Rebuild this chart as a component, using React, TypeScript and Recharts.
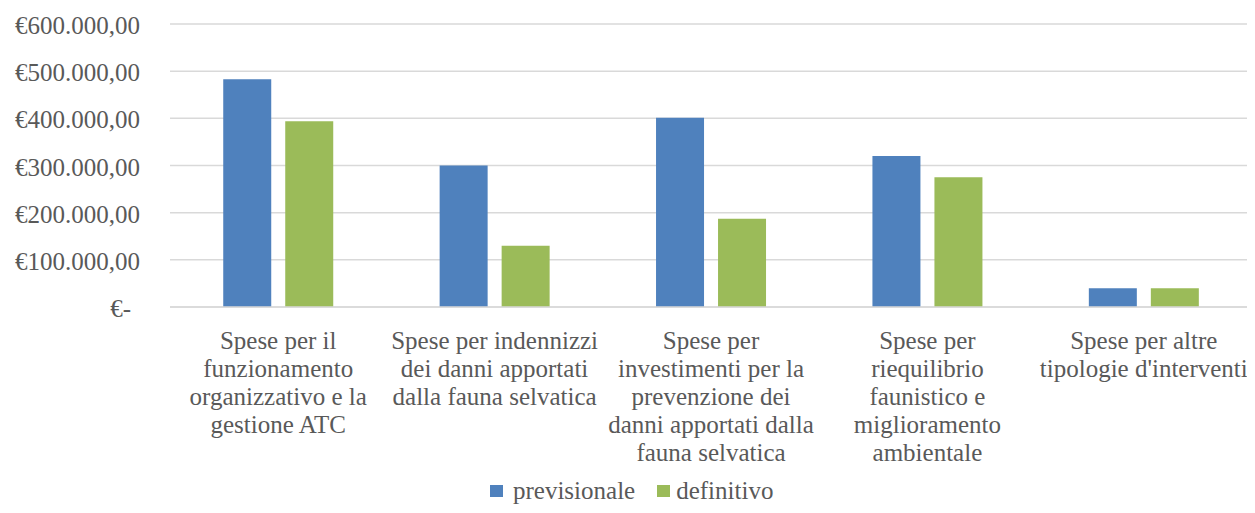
import { BarChart, Bar, XAxis, YAxis, CartesianGrid, Legend } from "recharts";

const categories = [
  "Spese per il\nfunzionamento\norganizzativo e la\ngestione ATC",
  "Spese per indennizzi\ndei danni apportati\ndalla fauna selvatica",
  "Spese per\ninvestimenti per la\nprevenzione dei\ndanni apportati dalla\nfauna selvatica",
  "Spese per\nriequilibrio\nfaunistico e\nmiglioramento\nambientale",
  "Spese per altre\ntipologie d'interventi",
];
const previsionale = [483000, 300000, 401000, 320000, 40000];
const definitivo = [394000, 130000, 187000, 275000, 40000];
const yTicks = [0, 100000, 200000, 300000, 400000, 500000, 600000];

const data = categories.map((name, i) => ({
  name,
  previsionale: previsionale[i],
  definitivo: definitivo[i],
}));

const FONT = "'Liberation Serif', serif";
const FS = 25;
const TEXT = "#595959";
const BLUE = "#4F81BD";
const GREEN = "#9BBB59";

const euro = (v: number) => {
  if (v === 0) return "€-";
  const int = Math.floor(v)
    .toString()
    .replace(/\B(?=(\d{3})+(?!\d))/g, ".");
  return `€${int},00`;
};

const YTick = ({ x, y, payload }: any) => (
  <text
    x={x}
    y={y}
    dx={payload.value === 0 ? -9 : 0}
    dy={10}
    textAnchor="end"
    fontFamily={FONT}
    fontSize={FS}
    fill={TEXT}
  >
    {euro(payload.value)}
  </text>
);

const XTick = ({ x, y, payload }: any) => {
  const lines = String(payload.value).split("\n");
  return (
    <text x={x} y={y} textAnchor="middle" fontFamily={FONT} fontSize={FS} fill={TEXT}>
      {lines.map((l, i) => (
        <tspan key={i} x={x} dy={i === 0 ? 40 : 28}>
          {l}
        </tspan>
      ))}
    </text>
  );
};

const legendItems = [
  { label: "previsionale", color: BLUE, gap: 10 },
  { label: "definitivo", color: GREEN, gap: 6 },
];

const LegendBox = () => (
  <div
    style={{
      height: 36,
      paddingTop: 1,
      paddingLeft: 490,
      boxSizing: "border-box",
      fontFamily: FONT,
      fontSize: FS,
      lineHeight: "25px",
      color: TEXT,
      whiteSpace: "nowrap",
      textAlign: "left",
    }}
  >
    {legendItems.map((item, i) => (
      <span key={item.label} style={{ marginLeft: i ? 22 : 0 }}>
        <span
          style={{
            display: "inline-block",
            width: 13,
            height: 12,
            background: item.color,
            marginRight: item.gap,
            position: "relative",
            top: -2,
          }}
        />
        {item.label}
      </span>
    ))}
  </div>
);

export default function App() {
  return (
    <div style={{ margin: -8, width: 1255, height: 513, background: "#fff", overflow: "hidden" }}>
      <BarChart
        width={1255}
        height={513}
        data={data}
        margin={{ top: 24, right: 3, bottom: 0, left: 0 }}
        barCategoryGap="24.6%"
        barGap={14}
      >
        <CartesianGrid vertical={false} stroke="#d9d9d9" strokeWidth={1.5} />
        <XAxis
          dataKey="name"
          interval={0}
          height={170}
          tickLine={false}
          tickSize={0}
          axisLine={{ stroke: "#d9d9d9", strokeWidth: 1.5 }}
          tick={<XTick />}
        />
        <YAxis
          width={170}
          domain={[0, 600000]}
          ticks={yTicks}
          axisLine={false}
          tickLine={false}
          tickSize={0}
          tickMargin={30}
          tick={<YTick />}
        />
        <Legend verticalAlign="bottom" content={<LegendBox />} />
        <Bar dataKey="previsionale" fill={BLUE} isAnimationActive={false} />
        <Bar dataKey="definitivo" fill={GREEN} isAnimationActive={false} />
      </BarChart>
    </div>
  );
}
